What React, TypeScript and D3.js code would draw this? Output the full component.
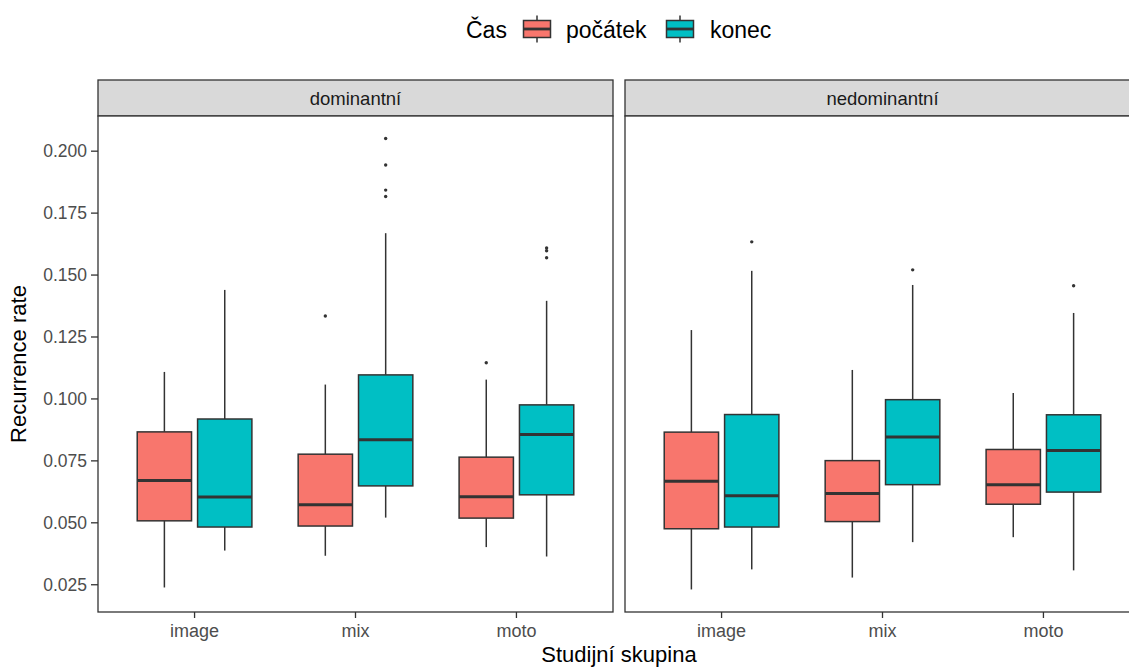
import React from "react";
import * as d3 from "d3";

// Study groups on the x axis, measurement time as the fill, hand dominance as facets
const groups = ["image", "mix", "moto"];
const phases = ["počátek", "konec"];
const facets = ["dominantní", "nedominantní"];
const phaseColors = ["#F8766D", "#00BFC4"];
const yTicks = [0.025, 0.05, 0.075, 0.1, 0.125, 0.15, 0.175, 0.2];

// Box statistics per group: [lower whisker, Q1, median, Q3, upper whisker]
const domPocatek = [
  [0.0239, 0.0508, 0.0671, 0.0867, 0.1109],
  [0.0367, 0.0487, 0.0573, 0.0777, 0.1058],
  [0.0402, 0.0519, 0.0605, 0.0765, 0.1078],
];
const domKonec = [
  [0.0388, 0.0483, 0.0604, 0.0919, 0.144],
  [0.0521, 0.0649, 0.0835, 0.1097, 0.1669],
  [0.0364, 0.0613, 0.0856, 0.0976, 0.1396],
];
const nedomPocatek = [
  [0.0231, 0.0476, 0.0668, 0.0866, 0.1278],
  [0.0279, 0.0505, 0.0618, 0.0751, 0.1117],
  [0.0442, 0.0575, 0.0654, 0.0796, 0.1024],
];
const nedomKonec = [
  [0.0312, 0.0483, 0.0609, 0.0937, 0.1517],
  [0.0422, 0.0654, 0.0846, 0.0997, 0.146],
  [0.0308, 0.0624, 0.0792, 0.0936, 0.1347],
];

// Outliers per group
const domPocatekOut = [[], [0.1335], [0.1146]];
const domKonecOut = [[], [0.2051, 0.1944, 0.1843, 0.1817], [0.1609, 0.1598, 0.157]];
const nedomPocatekOut = [[], [], []];
const nedomKonecOut = [[0.1634], [0.1521], [0.1457]];

const stats = [
  [domPocatek, domKonec],
  [nedomPocatek, nedomKonec],
];
const outliers = [
  [domPocatekOut, domKonecOut],
  [nedomPocatekOut, nedomKonecOut],
];

const W = 1129;
const H = 668;
const panelW = 515;
const panelX = [98, 625];
const stripTop = 80;
const stripBottom = 116;
const panelBottom = 612;
const font = "'Liberation Sans', Arial, Helvetica, sans-serif";
const ink = "#333333";

export default function App() {
  const allVals = [...stats.flat(3), ...outliers.flat(3)] as number[];
  const [lo, hi] = d3.extent(allVals) as [number, number];
  const pad = (hi - lo) * 0.05;
  const y = d3.scaleLinear().domain([lo - pad, hi + pad]).range([panelBottom, stripBottom]);

  return (
    <svg
      width={W}
      height={H}
      style={{ position: "absolute", left: 0, top: 0, background: "#fff" }}
      fontFamily={font}
    >
      {/* legend */}
      <g>
        <text x={466} y={37.5} fontSize={23} fill="#000">Čas</text>
        {phases.map((p, i) => {
          const kx = [519, 662][i];
          const ky = 12;
          const kw = 36;
          const kh = 34;
          return (
            <g key={p}>
              <line x1={kx + kw / 2} x2={kx + kw / 2} y1={ky + kh * 0.1} y2={ky + kh * 0.9} stroke={ink} strokeWidth={1.5} />
              <rect x={kx + kw * 0.125} y={ky + kh * 0.25} width={kw * 0.75} height={kh * 0.5} fill={phaseColors[i]} stroke={ink} strokeWidth={1.5} />
              <line x1={kx + kw * 0.125} x2={kx + kw * 0.875} y1={ky + kh / 2} y2={ky + kh / 2} stroke={ink} strokeWidth={2.8} />
              <text x={[566, 710][i]} y={37.5} fontSize={23} fill="#000">{p}</text>
            </g>
          );
        })}
      </g>

      {facets.map((f, fi) => {
        const x0 = panelX[fi];
        const x = d3.scaleBand<string>().domain(groups).range([x0, x0 + panelW]).paddingInner(0).paddingOuter(0.1);
        const step = x.step();
        const sub = d3.scaleBand<string>().domain(phases).range([-0.375 * step, 0.375 * step]);
        const boxW = sub.bandwidth() * 0.9;
        return (
          <g key={f}>
            {/* strip */}
            <rect x={x0} y={stripTop} width={panelW} height={stripBottom - stripTop} fill="#D9D9D9" stroke={ink} strokeWidth={1.3} />
            <text x={x0 + panelW / 2} y={(stripTop + stripBottom) / 2 + 6.5} fontSize={18.5} fill="#1A1A1A" textAnchor="middle">{f}</text>
            <rect x={x0} y={stripBottom} width={panelW} height={panelBottom - stripBottom} fill="#fff" />

            {groups.map((g, gi) => {
              const cx0 = (x(g) as number) + x.bandwidth() / 2;
              return phases.map((p, pi) => {
                const [w0, q1, med, q3, w1] = stats[fi][pi][gi];
                const cx = cx0 + (sub(p) as number) + sub.bandwidth() / 2;
                return (
                  <g key={g + p}>
                    <line x1={cx} x2={cx} y1={y(w1)} y2={y(q3)} stroke={ink} strokeWidth={1.5} />
                    <line x1={cx} x2={cx} y1={y(q1)} y2={y(w0)} stroke={ink} strokeWidth={1.5} />
                    <rect x={cx - boxW / 2} y={y(q3)} width={boxW} height={y(q1) - y(q3)} fill={phaseColors[pi]} stroke={ink} strokeWidth={1.5} />
                    <line x1={cx - boxW / 2} x2={cx + boxW / 2} y1={y(med)} y2={y(med)} stroke={ink} strokeWidth={3} />
                    {outliers[fi][pi][gi].map((o, oi) => (
                      <circle key={oi} cx={cx} cy={y(o)} r={1.7} fill={ink} />
                    ))}
                  </g>
                );
              });
            })}

            {/* panel border */}
            <rect x={x0} y={stripBottom} width={panelW} height={panelBottom - stripBottom} fill="none" stroke={ink} strokeWidth={1.3} />

            {/* x axis */}
            {groups.map((g) => {
              const cx = (x(g) as number) + x.bandwidth() / 2;
              return (
                <g key={g}>
                  <line x1={cx} x2={cx} y1={panelBottom} y2={panelBottom + 6} stroke={ink} strokeWidth={1.3} />
                  <text x={cx} y={panelBottom + 25} fontSize={18} fill="#4D4D4D" textAnchor="middle">{g}</text>
                </g>
              );
            })}
          </g>
        );
      })}

      {/* y axis */}
      {yTicks.map((t) => (
        <g key={t}>
          <line x1={panelX[0] - 7} x2={panelX[0]} y1={y(t)} y2={y(t)} stroke={ink} strokeWidth={1.3} />
          <text x={panelX[0] - 11} y={y(t) + 6} fontSize={17.5} fill="#4D4D4D" textAnchor="end">{d3.format(".3f")(t)}</text>
        </g>
      ))}

      <text transform={`translate(26,${(stripBottom + panelBottom) / 2}) rotate(-90)`} fontSize={22} textAnchor="middle" fill="#000">Recurrence rate</text>
      <text x={(panelX[0] + panelX[1] + panelW) / 2} y={662} fontSize={22} textAnchor="middle" fill="#000">Studijní skupina</text>
    </svg>
  );
}
